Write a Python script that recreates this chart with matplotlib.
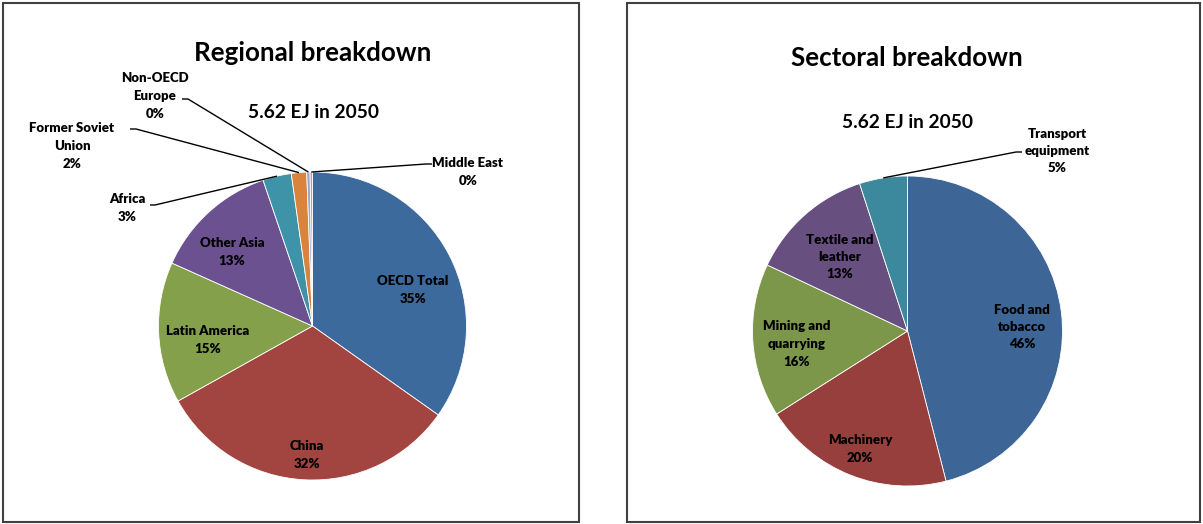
import numpy as np
import matplotlib.pyplot as plt
from matplotlib.patches import Rectangle

W, H = 1203, 524

regions = ["OECD Total", "China", "Latin America", "Other Asia", "Africa",
           "Former Soviet\nUnion", "Non-OECD\nEurope", "Middle East"]
region_share = [34.8, 32.1, 14.8, 13.1, 3.0, 1.6, 0.35, 0.25]
region_colors = ["#3d6a9c", "#a2443f", "#84a04a", "#6b5190", "#3f93a9",
                 "#da833c", "#94a9d0", "#d49391"]

sectors = ["Food and\ntobacco", "Machinery", "Mining and\nquarrying",
           "Textile and\nleather", "Transport\nequipment"]
sector_share = [46, 20, 16, 13, 5]
sector_colors = ["#3d6596", "#973f3d", "#7c974a", "#674f80", "#3c889c"]

total_label = "5.62 EJ in 2050"

plt.rcParams['font.family'] = ['Lato', 'DejaVu Sans']

fig = plt.figure(figsize=(W / 100, H / 100), dpi=100)
ax = fig.add_axes([0, 0, 1, 1])


def up(y):
    # pixel rows are counted from the top
    return H - y


def draw_pie(values, colors, cx, cy, r):
    wedges, _ = ax.pie(values, colors=colors, startangle=90, counterclock=False,
                       center=(cx, up(cy)), radius=r, frame=True,
                       wedgeprops=dict(edgecolor="white", linewidth=0.6))
    return wedges


def edge_point(w):
    mid = np.deg2rad((w.theta1 + w.theta2) / 2)
    return (w.center[0] + w.r * np.cos(mid), w.center[1] + w.r * np.sin(mid))


def label(text, value, x, y, ls=1.55):
    ax.text(x, up(y), f"{text}\n{value:.0f}%", ha="center", va="center",
            fontsize=9.5, fontweight="heavy", linespacing=ls)


def leader(w, pts):
    ex, ey = edge_point(w)
    xs = [p[0] for p in pts] + [ex]
    ys = [up(p[1]) for p in pts] + [ey]
    ax.plot(xs, ys, color="black", lw=1.0, solid_capstyle="butt")


# panel frames
for x0, x1 in [(3, 579), (627, 1200)]:
    ax.add_patch(Rectangle((x0, up(522)), x1 - x0, 519, fill=False,
                           edgecolor="#404040", lw=1.5))

# regional breakdown
rw = draw_pie(region_share, region_colors, 312.5, 326, 154)
ax.text(313, up(53), "Regional breakdown", ha="center", va="center",
        fontsize=18.7, fontweight="bold")
ax.text(313, up(113), total_label, ha="center", va="center",
        fontsize=13.8, fontweight="bold")

label(regions[0], region_share[0], 413, 290)
label(regions[1], region_share[1], 307, 455)
label(regions[2], region_share[2], 208, 340)
label(regions[3], region_share[3], 232, 252)
label(regions[4], region_share[4], 127, 208)
label(regions[5], region_share[5], 72, 146)
label(regions[6], region_share[6], 155, 96)
label(regions[7], region_share[7], 468, 172)

leader(rw[4], [(150, 205), (155, 205)])
leader(rw[5], [(130, 129), (136, 129)])
leader(rw[6], [(182, 99), (188, 99)])
leader(rw[7], [(432, 164), (426, 164)])

# sectoral breakdown
sw = draw_pie(sector_share, sector_colors, 907.5, 331, 155)
ax.text(907, up(58), "Sectoral breakdown", ha="center", va="center",
        fontsize=18.7, fontweight="bold")
ax.text(907, up(122), total_label, ha="center", va="center",
        fontsize=13.8, fontweight="bold")

label(sectors[0], sector_share[0], 1022, 327)
label(sectors[1], sector_share[1], 860, 449)
label(sectors[2], sector_share[2], 797, 344)
label(sectors[3], sector_share[3], 840, 257)
label(sectors[4], sector_share[4], 1057, 151)

leader(sw[4], [(1022, 152), (1016, 152)])

ax.set_xlim(0, W)
ax.set_ylim(0, H)
ax.axis("off")

fig.savefig("out.png", dpi=100)
